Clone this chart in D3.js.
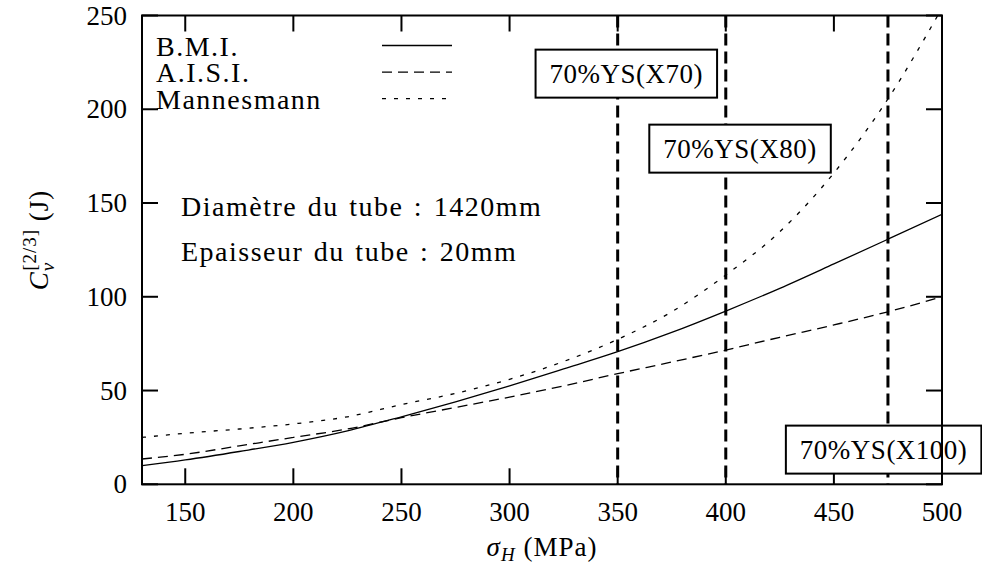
<!DOCTYPE html>
<html>
<head>
<meta charset="utf-8">
<script src="https://cdn.jsdelivr.net/npm/d3@7/dist/d3.min.js"></script>
<style>
  body { margin: 0; background: #fff; }
  text { font-family: "Liberation Serif", "DejaVu Serif", serif; fill: #000; }
  .words { font-size: 28px; letter-spacing: 1.5px; word-spacing: 2px; }
</style>
</head>
<body>
<div id="chart"></div>
<script>
// values
const stress = [130, 150, 175, 200, 225, 250, 275, 300, 325, 350, 375, 400, 425, 450, 475, 500];
const bmi = [9.9, 13, 17.5, 22.4, 28.5, 36, 44, 52.5, 61.5, 70.7, 81, 92.4, 104.5, 117.5, 130.7, 144];
const aisi = [13.5, 16, 20.5, 25, 29.5, 35.5, 41, 46.5, 52.5, 59, 65.2, 71.6, 78.4, 85, 92, 100];
const mannesmann = [25, 27.2, 29.5, 32.2, 36, 42.5, 48.5, 56, 65.5, 77.3, 92, 111.6, 134.7, 166, 205.5, 254];
const seriesNames = ['B.M.I.', 'A.I.S.I.', 'Mannesmann'];
const xTicks = [150, 200, 250, 300, 350, 400, 450, 500];
const yTicks = [0, 50, 100, 150, 200, 250];
const limitStress = [350, 400, 475];
const limitNames = ['70%YS(X70)', '70%YS(X80)', '70%YS(X100)'];
const notes = ['Diamètre du tube : 1420mm', 'Epaisseur du tube : 20mm'];

const margin = { top: 15.5, right: 40, bottom: 84.7, left: 142 };
const width = 982 - margin.left - margin.right;
const height = 569 - margin.top - margin.bottom;
const fontSize = 27;

const svg = d3
  .select('#chart')
  .append('svg')
  .attr('width', 982)
  .attr('height', 569);

const g = svg
  .append('g')
  .attr('transform', 'translate(' + margin.left + ',' + margin.top + ')');

const x = d3.scaleLinear().domain([130, 500]).range([0, width]);
const y = d3.scaleLinear().domain([0, 250]).range([height, 0]);

g.append('clipPath')
  .attr('id', 'plot-clip')
  .append('rect')
  .attr('width', width)
  .attr('height', height);

// ticks (inside, mirrored on all sides)
const tickLen = 16;
const tickStyle = sel => sel.attr('stroke', '#000').attr('stroke-width', 2);

g.selectAll('.xt-b').data(xTicks).enter().append('line')
  .attr('x1', d => x(d)).attr('x2', d => x(d))
  .attr('y1', height).attr('y2', height - tickLen)
  .call(tickStyle);
g.selectAll('.xt-t').data(xTicks).enter().append('line')
  .attr('x1', d => x(d)).attr('x2', d => x(d))
  .attr('y1', 0).attr('y2', tickLen)
  .call(tickStyle);
g.selectAll('.yt-l').data(yTicks).enter().append('line')
  .attr('x1', 0).attr('x2', tickLen)
  .attr('y1', d => y(d)).attr('y2', d => y(d))
  .call(tickStyle);
g.selectAll('.yt-r').data(yTicks).enter().append('line')
  .attr('x1', width).attr('x2', width - tickLen)
  .attr('y1', d => y(d)).attr('y2', d => y(d))
  .call(tickStyle);

g.selectAll('.xlab').data(xTicks).enter().append('text')
  .attr('x', d => x(d))
  .attr('y', height + 37)
  .attr('text-anchor', 'middle')
  .style('font-size', fontSize + 'px')
  .text(d => d);

g.selectAll('.ylab').data(yTicks).enter().append('text')
  .attr('x', -15)
  .attr('y', d => y(d) + 9)
  .attr('text-anchor', 'end')
  .style('font-size', fontSize + 'px')
  .text(d => d);

// vertical limit lines
g.selectAll('.limit').data(limitStress).enter().append('line')
  .attr('x1', d => x(d)).attr('x2', d => x(d))
  .attr('y1', 0).attr('y2', height)
  .attr('stroke', '#000')
  .attr('stroke-width', 3)
  .attr('stroke-dasharray', '12,6');

// curves
const dashes = [null, '10,6', '4,8'];
const seriesValues = [bmi, aisi, mannesmann];
const line = d3.line()
  .x(d => x(d[0]))
  .y(d => y(d[1]))
  .curve(d3.curveMonotoneX);

const curves = g.append('g').attr('clip-path', 'url(#plot-clip)');
seriesValues.forEach((vals, i) => {
  curves.append('path')
    .datum(stress.map((s, j) => [s, vals[j]]))
    .attr('d', line)
    .attr('fill', 'none')
    .attr('stroke', '#000')
    .attr('stroke-width', 1.3)
    .attr('stroke-dasharray', dashes[i]);
});

// legend
const legend = g.append('g').attr('transform', 'translate(14,40)');
seriesNames.forEach((name, i) => {
  legend.append('text')
    .attr('class', 'words')
    .attr('x', 0)
    .attr('y', i * 26.6)
    .text(name);
  legend.append('line')
    .attr('x1', 226).attr('x2', 296)
    .attr('y1', i * 26.6 - 10).attr('y2', i * 26.6 - 10)
    .attr('stroke', '#000')
    .attr('stroke-width', 1.3)
    .attr('stroke-dasharray', dashes[i]);
});

// notes
notes.forEach((t, i) => {
  g.append('text')
    .attr('class', 'words')
    .attr('x', 39)
    .attr('y', 200 + i * 45)
    .text(t);
});

// boxed labels for the limit lines, centred on [stress, energy]
const labelAt = [[354, 219], [406.6, 179], [473, 18.5]];
limitNames.forEach((name, i) => {
  const lab = g.append('g')
    .attr('transform', 'translate(' + x(labelAt[i][0]) + ',' + y(labelAt[i][1]) + ')');
  const rect = lab.append('rect');
  const txt = lab.append('text')
    .attr('text-anchor', 'middle')
    .attr('y', 9)
    .style('font-size', fontSize + 'px')
    .style('letter-spacing', '0.5px')
    .text(name);
  const w = txt.node().getComputedTextLength() + 28;
  rect
    .attr('x', -w / 2).attr('y', -24)
    .attr('width', w).attr('height', 48)
    .attr('fill', '#fff')
    .attr('stroke', '#000')
    .attr('stroke-width', 2);
});

// frame
g.append('rect')
  .attr('width', width)
  .attr('height', height)
  .attr('fill', 'none')
  .attr('stroke', '#000')
  .attr('stroke-width', 2);

// axis titles
const xTitle = svg.append('text')
  .attr('x', margin.left + width / 2)
  .attr('y', 556)
  .attr('text-anchor', 'middle')
  .style('font-size', fontSize + 'px')
  .style('letter-spacing', '1px');
xTitle.append('tspan').style('font-style', 'italic').text('σ');
xTitle.append('tspan').style('font-style', 'italic').style('font-size', '19px').attr('dy', 5).text('H');
xTitle.append('tspan').attr('dy', -5).text(' (MPa)');

const yTitle = svg.append('text')
  .attr('transform', 'translate(48,240) rotate(-90)')
  .attr('text-anchor', 'middle')
  .style('font-size', fontSize + 'px')
  .style('letter-spacing', '1px');
yTitle.append('tspan').style('font-style', 'italic').text('C');
yTitle.append('tspan').style('font-style', 'italic').style('font-size', '19px').attr('dy', 6).text('v');
yTitle.append('tspan').style('font-size', '19px').attr('dx', -9).attr('dy', -18).text('[2/3]');
yTitle.append('tspan').attr('dy', 12).text(' (J)');
</script>
</body>
</html>
